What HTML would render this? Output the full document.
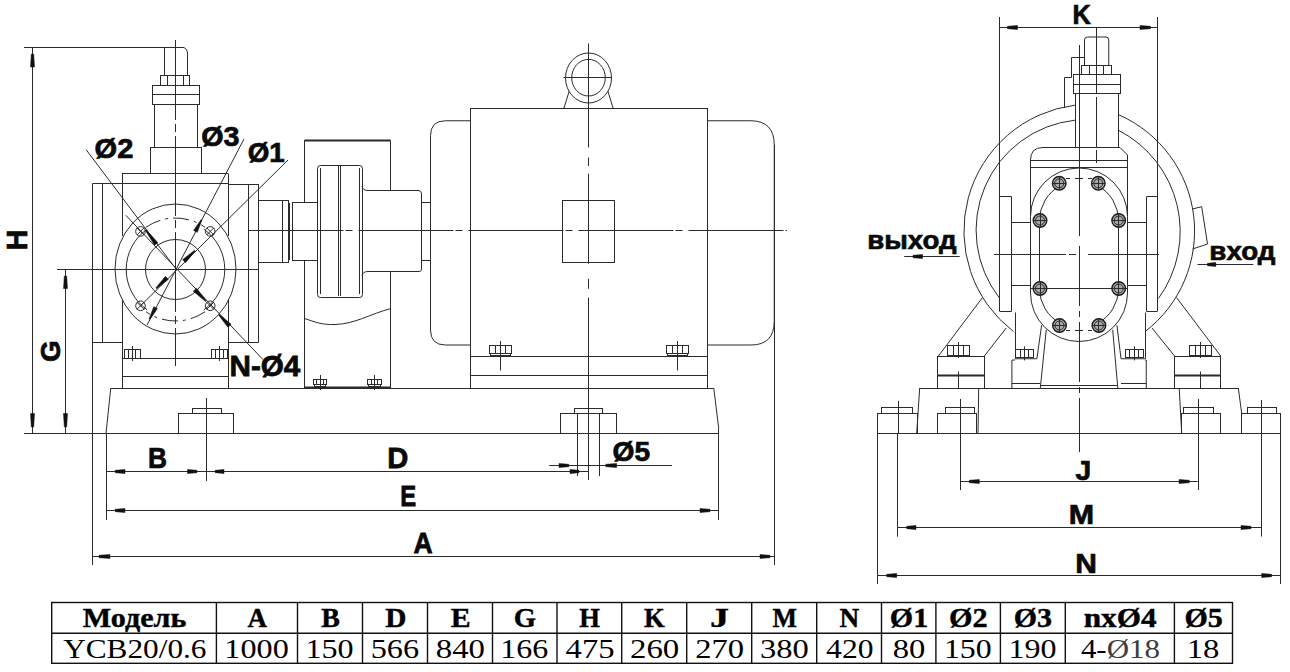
<!DOCTYPE html>
<html><head><meta charset="utf-8">
<style>
html,body{margin:0;padding:0;background:#fff;width:1290px;height:672px;overflow:hidden}
svg{display:block}
.dr line,.dr path,.dr rect,.dr circle,.dr ellipse{stroke:#2b2b2b;stroke-width:1;fill:none}
.dr .wf{fill:#fff}
.dr .bar{stroke:#111;stroke-linecap:butt}
.dr .wd{fill:#111;stroke:#111;stroke-width:0.5}
.dr .d{stroke-dasharray:16 5 3 5}
.dr .dd{stroke-dasharray:34 6 6 6}
.dr .sc{stroke-dasharray:95 2 7 6}
.dr .pc{stroke-dasharray:80 4 8 4}
.dr .rc{stroke-dasharray:60 5 6 5}
.dr .dd2{stroke-dasharray:30 4 4 4}
.dr .g{fill:#a8a8a8;stroke:#1a1a1a;stroke-width:1.4px}
text{font-family:"Liberation Sans",sans-serif;font-weight:bold;fill:#0a0a0a;stroke:#0a0a0a;stroke-width:2.6px}
.th{font-family:"Liberation Serif",serif;font-weight:bold;fill:#000;stroke:#000;stroke-width:1.5px}
.td{font-family:"Liberation Serif",serif;font-weight:normal;fill:#000;stroke:none}
.tbl{stroke:#111;stroke-width:1.4;fill:none}
</style></head><body>
<svg width="1290" height="672" viewBox="0 0 1290 672">
<g class="dr">
<line x1="24" y1="47.5" x2="184" y2="47.5"/>
<line x1="32.5" y1="47.5" x2="32.5" y2="433.5"/>
<path class="wd" d="M31.30,54.00 L30.50,67.00 L34.50,67.00 L33.70,54.00 Z"/>
<path class="wd" d="M33.70,427.00 L34.50,413.50 L30.50,413.50 L31.30,427.00 Z"/>
<line x1="57" y1="269.5" x2="258.5" y2="269.5"/>
<line x1="65.5" y1="269.5" x2="65.5" y2="433.5"/>
<path class="wd" d="M64.30,276.00 L63.50,288.50 L67.50,288.50 L66.70,276.00 Z"/>
<path class="wd" d="M66.70,427.00 L67.50,413.50 L63.50,413.50 L64.30,427.00 Z"/>
<line x1="24" y1="433.5" x2="719" y2="433.5"/>
<text font-size="100" transform="matrix(0 -0.28305 0.29130 0 26.800 250.281)">H</text>
<text font-size="100" transform="matrix(0 -0.27794 0.28310 0 60.017 362.012)">G</text>
<path d="M164.5,75 V47.5 H184 Q187.5,49 187.5,53 V75"/>
<rect x="160.5" y="75.5" width="29.0" height="10.0"/>
<line x1="167.5" y1="75" x2="167.5" y2="85"/>
<line x1="183.5" y1="75" x2="183.5" y2="85"/>
<rect x="152.5" y="85.5" width="47.0" height="19.0"/>
<line x1="152" y1="94.5" x2="199.5" y2="94.5"/>
<line x1="154.5" y1="104" x2="154.5" y2="147.5"/>
<line x1="197.5" y1="104" x2="197.5" y2="147.5"/>
<rect x="150.5" y="147.5" width="51.0" height="26.0"/>
<line x1="122" y1="173.5" x2="228" y2="173.5"/>
<line x1="122.5" y1="173.5" x2="122.5" y2="236"/>
<line x1="228.5" y1="173.5" x2="228.5" y2="236"/>
<line x1="122.5" y1="300" x2="122.5" y2="388"/>
<line x1="228.5" y1="300" x2="228.5" y2="388"/>
<line x1="92.5" y1="183.5" x2="228" y2="183.5"/>
<line x1="228" y1="184.5" x2="258.5" y2="184.5"/>
<line x1="92.5" y1="183.5" x2="92.5" y2="565"/>
<line x1="258.5" y1="184" x2="258.5" y2="342.5"/>
<line x1="92.5" y1="342.5" x2="122" y2="342.5"/>
<line x1="228" y1="342.5" x2="258.5" y2="342.5"/>
<line x1="102.5" y1="183.5" x2="102.5" y2="342.5"/>
<line x1="248.5" y1="184" x2="248.5" y2="342.5"/>
<line x1="122" y1="358.5" x2="228" y2="358.5"/>
<line x1="122" y1="376.5" x2="228" y2="376.5"/>
<rect x="124.5" y="349.5" width="16.0" height="9.0"/>
<line x1="128.5" y1="349" x2="128.5" y2="358"/>
<line x1="135.5" y1="349" x2="135.5" y2="358"/>
<line x1="132.5" y1="346" x2="132.5" y2="361"/>
<rect x="211.5" y="349.5" width="16.0" height="9.0"/>
<line x1="215.5" y1="349" x2="215.5" y2="358"/>
<line x1="223.5" y1="349" x2="223.5" y2="358"/>
<line x1="219.5" y1="346" x2="219.5" y2="361"/>
<ellipse cx="175.5" cy="269" rx="60.5" ry="65"/>
<path d="M203.78,229.12 A49.3,49.3 0 0 1 203.78,309.88"/>
<path d="M147.22,309.88 A49.3,49.3 0 0 1 147.22,229.12"/>
<path d="M145.96,227.31 A51.5,51.5 0 0 1 205.04,227.31" class="d"/>
<path d="M205.04,311.69 A51.5,51.5 0 0 1 145.96,311.69" class="d"/>
<circle cx="175.5" cy="269.5" r="30"/>
<circle cx="140.5" cy="231.4" r="4.8"/>
<line x1="136.9" y1="227.8" x2="144.1" y2="235.0"/>
<line x1="136.9" y1="235.0" x2="144.1" y2="227.8"/>
<circle cx="210.2" cy="231.4" r="4.8"/>
<line x1="206.6" y1="227.8" x2="213.79999999999998" y2="235.0"/>
<line x1="206.6" y1="235.0" x2="213.79999999999998" y2="227.8"/>
<circle cx="140.5" cy="305.8" r="4.8"/>
<line x1="136.9" y1="302.2" x2="144.1" y2="309.40000000000003"/>
<line x1="136.9" y1="309.40000000000003" x2="144.1" y2="302.2"/>
<circle cx="210.2" cy="305.8" r="4.8"/>
<line x1="206.6" y1="302.2" x2="213.79999999999998" y2="309.40000000000003"/>
<line x1="206.6" y1="309.40000000000003" x2="213.79999999999998" y2="302.2"/>
<line x1="175.5" y1="40" x2="175.5" y2="366" class="pc"/>
<line x1="86.2" y1="149.8" x2="176" y2="269"/>
<line x1="244" y1="139" x2="147" y2="325"/>
<line x1="288" y1="160" x2="140.5" y2="305.8"/>
<line x1="125.8" y1="215.3" x2="262.9" y2="359.5"/>
<path class="wd" d="M146.42,230.06 L157.92,242.68 L154.57,245.20 L145.62,230.66 Z"/>
<path class="wd" d="M201.90,220.11 L197.29,232.37 L193.57,230.42 L201.01,219.65 Z"/>
<path class="wd" d="M149.10,318.89 L153.71,306.63 L157.43,308.58 L149.99,319.35 Z"/>
<path class="wd" d="M195.20,251.03 L185.56,262.64 L182.64,259.63 L194.50,250.31 Z"/>
<path class="wd" d="M155.80,287.97 L165.44,276.36 L168.36,279.37 L156.50,288.69 Z"/>
<path class="wd" d="M205.61,301.58 L193.27,291.25 L196.52,288.14 L206.34,300.89 Z"/>
<path class="wd" d="M218.77,315.29 L227.90,327.32 L231.15,324.20 L219.50,314.60 Z"/>
<text font-size="100" transform="matrix(0.29048 0 0 0.27895 94.538 157.984)">Ø2</text>
<text font-size="100" transform="matrix(0.28651 0 0 0.27895 201.254 145.784)">Ø3</text>
<text font-size="100" transform="matrix(0.27795 0 0 0.28289 247.688 161.568)">Ø1</text>
<text font-size="100" transform="matrix(0.29654 0 0 0.29079 229.524 375.837)">N-Ø4</text>
<rect x="258.5" y="200.5" width="30.0" height="62.0"/>
<line x1="282.5" y1="200.5" x2="282.5" y2="262.5"/>
<rect x="292.5" y="202.5" width="25.0" height="58.0"/>
<line x1="289.5" y1="203" x2="289.5" y2="260"/>
<path d="M304.5,202.5 V140.5 H390.5 V190.5"/>
<line x1="304.5" y1="260.5" x2="304.5" y2="388"/>
<line x1="390.5" y1="272" x2="390.5" y2="388"/>
<line x1="304.5" y1="140.5" x2="390.5" y2="140.5" style="stroke-width:2px"/>
<path d="M304.5,318.5 C315,322 322,325 335,324.5 C355,324 370,314 391,308.5"/>
<rect x="317.5" y="165.5" width="45.0" height="132.0" rx="3"/>
<line x1="320.5" y1="168" x2="320.5" y2="294"/>
<line x1="338.5" y1="166" x2="338.5" y2="296"/>
<line x1="340.5" y1="166" x2="340.5" y2="296"/>
<line x1="359.5" y1="168" x2="359.5" y2="294"/>
<path d="M362,186 Q362.5,190.5 368,190.5 H419 Q421.5,191 421.5,194 V269 Q421.5,271.5 419,271.5 H368 Q362.5,271.5 362,276"/>
<rect x="421.5" y="202.5" width="9.0" height="58.0"/>
<rect x="313.5" y="379.5" width="13.0" height="5.0"/>
<line x1="316.5" y1="379.5" x2="316.5" y2="384.0"/>
<line x1="323.5" y1="379.5" x2="323.5" y2="384.0"/>
<rect x="314.5" y="384.5" width="11.0" height="2.0"/>
<line x1="320.5" y1="375.0" x2="320.5" y2="390.0"/>
<rect x="367.5" y="379.5" width="14.0" height="5.0"/>
<line x1="371.5" y1="379.5" x2="371.5" y2="384.0"/>
<line x1="377.5" y1="379.5" x2="377.5" y2="384.0"/>
<rect x="368.5" y="384.5" width="12.0" height="2.0"/>
<line x1="374.5" y1="375.0" x2="374.5" y2="390.0"/>
<line x1="304.5" y1="387.5" x2="390.5" y2="387.5" style="stroke-width:2px"/>
<line x1="248.5" y1="230.5" x2="787" y2="230.5" class="sc"/>
<path d="M470.5,120.75 H445.5 Q430.5,120.75 430.5,135.75 V330 Q430.5,345 445.5,345 H470.5"/>
<rect x="470.5" y="108.5" width="237.0" height="280.0"/>
<path d="M707.5,120.75 H751 Q774.25,121 774.25,145 V321 Q774.25,345 751,345 H707.5"/>
<line x1="774.5" y1="145" x2="774.5" y2="565"/>
<ellipse cx="588.5" cy="78" rx="23" ry="25"/>
<ellipse cx="588.5" cy="77.7" rx="16.8" ry="18.3"/>
<line x1="563.5" y1="77.5" x2="612" y2="77.5"/>
<line x1="569.2" y1="91.2" x2="563.8" y2="108.5"/>
<line x1="607.9" y1="91.2" x2="613.2" y2="108.5"/>
<path d="M588.5,43.5 V147.5 M588.5,157.5 V166 M588.5,173.75 V263.75 M588.5,278.75 V288.75 M588.5,297.5 V480"/>
<rect x="562.5" y="200.5" width="52.0" height="62.0"/>
<line x1="470.5" y1="356.5" x2="707.5" y2="356.5"/>
<line x1="470.5" y1="375.5" x2="707.5" y2="375.5"/>
<rect x="489.5" y="345.5" width="22.0" height="8.0"/>
<line x1="495.5" y1="345" x2="495.5" y2="353"/>
<line x1="505.5" y1="345" x2="505.5" y2="353"/>
<rect x="490.5" y="353.5" width="20.0" height="2.0"/>
<line x1="500.5" y1="341" x2="500.5" y2="370.5"/>
<rect x="666.5" y="345.5" width="22.0" height="8.0"/>
<line x1="672.5" y1="345" x2="672.5" y2="353"/>
<line x1="682.5" y1="345" x2="682.5" y2="353"/>
<rect x="667.5" y="353.5" width="20.0" height="2.0"/>
<line x1="677.5" y1="341" x2="677.5" y2="370.5"/>
<line x1="110.75" y1="388.5" x2="713.75" y2="388.5"/>
<line x1="110.75" y1="388" x2="106" y2="433.5"/>
<line x1="713.75" y1="388" x2="718.75" y2="428.75"/>
<line x1="718.5" y1="428.75" x2="718.5" y2="520"/>
<rect x="178.5" y="413.5" width="55.0" height="20.0"/>
<rect x="192.5" y="408.5" width="29.0" height="5.0"/>
<rect x="560.5" y="413.5" width="56.0" height="20.0"/>
<rect x="574.5" y="408.5" width="28.0" height="5.0"/>
<line x1="206.5" y1="398" x2="206.5" y2="481"/>
<line x1="577.5" y1="413.75" x2="577.5" y2="476"/>
<line x1="599.5" y1="413.75" x2="599.5" y2="476"/>
<line x1="106.5" y1="433.5" x2="106.5" y2="520"/>
<line x1="106" y1="471.5" x2="588.5" y2="471.5"/>
<path class="wd" d="M115.20,472.70 L125.00,473.50 L125.00,469.50 L115.20,470.30 Z"/>
<path class="wd" d="M197.00,470.30 L187.50,469.50 L187.50,473.50 L197.00,472.70 Z"/>
<path class="wd" d="M215.20,472.70 L224.00,473.50 L224.00,469.50 L215.20,470.30 Z"/>
<path class="wd" d="M579.00,470.30 L570.00,469.50 L570.00,473.50 L579.00,472.70 Z"/>
<line x1="549.2" y1="465.5" x2="672" y2="465.5"/>
<path class="wd" d="M568.80,464.30 L559.00,463.50 L559.00,467.50 L568.80,466.70 Z"/>
<path class="wd" d="M605.80,466.70 L616.60,467.50 L616.60,463.50 L605.80,464.30 Z"/>
<text font-size="100" transform="matrix(0.26230 0 0 0.28696 147.964 467.800)">B</text>
<text font-size="100" transform="matrix(0.29180 0 0 0.28986 387.257 468.000)">D</text>
<text font-size="100" transform="matrix(0.23929 0 0 0.28986 400.125 506.000)">E</text>
<text font-size="100" transform="matrix(0.26515 0 0 0.30290 413.505 553.400)">A</text>
<text font-size="100" transform="matrix(0.28150 0 0 0.27763 612.624 461.389)">Ø5</text>
<line x1="106" y1="510.5" x2="718.75" y2="510.5"/>
<path class="wd" d="M115.20,511.70 L125.00,512.50 L125.00,508.50 L115.20,509.30 Z"/>
<path class="wd" d="M710.00,509.30 L700.00,508.50 L700.00,512.50 L710.00,511.70 Z"/>
<line x1="92.5" y1="556.5" x2="774.25" y2="556.5"/>
<path class="wd" d="M99.00,557.70 L110.00,558.50 L110.00,554.50 L99.00,555.30 Z"/>
<path class="wd" d="M770.00,555.30 L760.00,554.50 L760.00,558.50 L770.00,557.70 Z"/>
<line x1="999.5" y1="17" x2="999.5" y2="311.25"/>
<line x1="1157.5" y1="17" x2="1157.5" y2="311.25"/>
<line x1="999.5" y1="27.5" x2="1157.75" y2="27.5"/>
<path class="wd" d="M1007.50,28.70 L1017.50,29.50 L1017.50,25.50 L1007.50,26.30 Z"/>
<path class="wd" d="M1150.50,26.30 L1140.00,25.50 L1140.00,29.50 L1150.50,28.70 Z"/>
<text font-size="100" transform="matrix(0.25313 0 0 0.28116 1072.428 23.700)">K</text>
<path d="M1074.90,105.19 A126.8,126.8 0 0 0 1013.43,331.53"/>
<path d="M1118.84,114.80 A127,127 0 0 1 1144.99,331.69"/>
<path d="M1074.96,120.21 A110.5,110.5 0 0 0 999.48,298.08"/>
<path d="M1118.59,130.31 A113.9,113.9 0 0 1 1158.47,298.42"/>
<path d="M1192.5,209 L1201.7,206.7 L1207.5,244 L1192.5,249"/>
<path d="M1096.5,27 V93 M1096.5,97 V147 M1096.5,150 V163"/>
<path d="M1084.5,65.5 V40 Q1084.5,37 1087.5,37 H1106 Q1108.75,37 1108.75,40 V65.5"/>
<rect x="1081.5" y="65.5" width="30.0" height="9.0"/>
<line x1="1089.5" y1="65.5" x2="1089.5" y2="74.25"/>
<line x1="1103.5" y1="65.5" x2="1103.5" y2="74.25"/>
<rect x="1073.5" y="74.5" width="47.0" height="19.0"/>
<line x1="1073" y1="84.5" x2="1120.5" y2="84.5"/>
<line x1="1075.5" y1="93" x2="1075.5" y2="147.5"/>
<line x1="1118.5" y1="93" x2="1118.5" y2="147.5"/>
<path d="M1079.5,45 V147 M1084.5,57.5 H1071.5 V77.5 H1064.5 V108"/>
<path d="M1030.5,216.5 V160 Q1030.5,147.5 1043,147.5 H1120 L1127.5,155 V216.5"/>
<line x1="1030.8" y1="160.5" x2="1128" y2="160.5"/>
<line x1="1030.8" y1="167.5" x2="1128" y2="167.5"/>
<path d="M1030.5,216.5 A48.5,48.5 0 0 1 1127.5,216.5 V293 A48.5,48.5 0 0 1 1030.5,293 Z"/>
<path d="M1039.50,220.50 A39.5,39.5 0 0 1 1060.58,185.56"/>
<path d="M1097.42,185.56 A39.5,39.5 0 0 1 1118.50,220.50"/>
<path d="M1118.50,288.50 A39.5,39.5 0 0 1 1097.42,323.44"/>
<path d="M1060.58,323.44 A39.5,39.5 0 0 1 1039.50,288.50"/>
<line x1="1039.5" y1="220.5" x2="1039.5" y2="288.5"/>
<line x1="1118.5" y1="220.5" x2="1118.5" y2="288.5"/>
<line x1="1066" y1="178.5" x2="1070" y2="178.5"/>
<line x1="1075" y1="178.5" x2="1083" y2="178.5"/>
<line x1="1088" y1="178.5" x2="1092" y2="178.5"/>
<line x1="1066" y1="330.5" x2="1070" y2="330.5"/>
<line x1="1075" y1="330.5" x2="1083" y2="330.5"/>
<line x1="1088" y1="330.5" x2="1092" y2="330.5"/>
<path d="M994,254.5 H1066 M1069,254.5 H1076 M1088,254.5 H1159"/>
<line x1="1079.5" y1="136" x2="1079.5" y2="236"/>
<line x1="1079.5" y1="246" x2="1079.5" y2="452" class="rc"/>
<line x1="1030" y1="288.5" x2="1128" y2="288.5"/>
<circle cx="1059.2" cy="183.3" r="6.8" class="g"/>
<circle cx="1059.2" cy="183.3" r="4.5"/>
<line x1="1052.4" y1="183.5" x2="1066.0" y2="183.5"/>
<line x1="1059.5" y1="176.5" x2="1059.5" y2="190.10000000000002"/>
<circle cx="1098.3" cy="183.3" r="6.8" class="g"/>
<circle cx="1098.3" cy="183.3" r="4.5"/>
<line x1="1091.5" y1="183.5" x2="1105.1" y2="183.5"/>
<line x1="1098.5" y1="176.5" x2="1098.5" y2="190.10000000000002"/>
<circle cx="1040" cy="220.5" r="6.8" class="g"/>
<circle cx="1040" cy="220.5" r="4.5"/>
<line x1="1033.2" y1="220.5" x2="1046.8" y2="220.5"/>
<line x1="1040.5" y1="213.7" x2="1040.5" y2="227.3"/>
<circle cx="1118.7" cy="220.5" r="6.8" class="g"/>
<circle cx="1118.7" cy="220.5" r="4.5"/>
<line x1="1111.9" y1="220.5" x2="1125.5" y2="220.5"/>
<line x1="1118.5" y1="213.7" x2="1118.5" y2="227.3"/>
<circle cx="1040" cy="288.5" r="6.8" class="g"/>
<circle cx="1040" cy="288.5" r="4.5"/>
<line x1="1033.2" y1="288.5" x2="1046.8" y2="288.5"/>
<line x1="1040.5" y1="281.7" x2="1040.5" y2="295.3"/>
<circle cx="1118.7" cy="288.5" r="6.8" class="g"/>
<circle cx="1118.7" cy="288.5" r="4.5"/>
<line x1="1111.9" y1="288.5" x2="1125.5" y2="288.5"/>
<line x1="1118.5" y1="281.7" x2="1118.5" y2="295.3"/>
<circle cx="1059.5" cy="325.5" r="6.8" class="g"/>
<circle cx="1059.5" cy="325.5" r="4.5"/>
<line x1="1052.7" y1="325.5" x2="1066.3" y2="325.5"/>
<line x1="1059.5" y1="318.7" x2="1059.5" y2="332.3"/>
<circle cx="1098.9" cy="325.5" r="6.8" class="g"/>
<circle cx="1098.9" cy="325.5" r="4.5"/>
<line x1="1092.1000000000001" y1="325.5" x2="1105.7" y2="325.5"/>
<line x1="1098.5" y1="318.7" x2="1098.5" y2="332.3"/>
<path d="M999.5,196.5 H1011.5 V311.5 H999.5"/>
<path d="M1157.5,196.5 H1146.5 V311.5 H1157.5"/>
<line x1="1012" y1="222.5" x2="1030.8" y2="222.5"/>
<line x1="1128" y1="222.5" x2="1146.5" y2="222.5"/>
<line x1="1012" y1="285.5" x2="1030.8" y2="285.5"/>
<line x1="1128" y1="285.5" x2="1146.5" y2="285.5"/>
<line x1="1015.5" y1="312.5" x2="1015.5" y2="358.75"/>
<line x1="1145.5" y1="312.5" x2="1145.5" y2="358.75"/>
<line x1="982.5" y1="297.5" x2="938.3" y2="356.2"/>
<line x1="1006.2" y1="328" x2="984.2" y2="356.2"/>
<line x1="1176.5" y1="297.5" x2="1220.8" y2="356.2"/>
<line x1="1152" y1="328" x2="1174.7" y2="356.2"/>
<rect x="937.5" y="356.5" width="47.0" height="32.0"/>
<line x1="937.5" y1="375.5" x2="984.2" y2="375.5" style="stroke-width:2px"/>
<rect x="1174.5" y="356.5" width="46.0" height="32.0"/>
<line x1="1174.7" y1="375.5" x2="1220.8" y2="375.5" style="stroke-width:2px"/>
<rect x="947.5" y="345.5" width="22.0" height="10.0"/>
<line x1="953.5" y1="345" x2="953.5" y2="355"/>
<line x1="963.5" y1="345" x2="963.5" y2="355"/>
<line x1="958.5" y1="342" x2="958.5" y2="358"/>
<rect x="1189.5" y="345.5" width="22.0" height="10.0"/>
<line x1="1195.5" y1="345" x2="1195.5" y2="355"/>
<line x1="1205.5" y1="345" x2="1205.5" y2="355"/>
<line x1="1200.5" y1="342" x2="1200.5" y2="358"/>
<line x1="958.5" y1="371.5" x2="958.5" y2="388"/>
<line x1="1200.5" y1="371.5" x2="1200.5" y2="388"/>
<path d="M1011.9,388 V360 H1015 M1015,358.75 H1036.9 L1041.6,325.2"/>
<line x1="1040.3" y1="388" x2="1046.25" y2="329.8"/>
<line x1="1011.9" y1="383.5" x2="1040" y2="383.5"/>
<path d="M1146.25,388 V360 H1145 M1145,358.75 H1121 L1116.9,325.2"/>
<line x1="1117.8" y1="388" x2="1112.7" y2="329.8"/>
<line x1="1121" y1="383.5" x2="1146.25" y2="383.5"/>
<line x1="1040.3" y1="385.5" x2="1116.9" y2="385.5" style="stroke-width:1px" style="stroke:#555"/>
<rect x="1015.5" y="349.5" width="18.0" height="8.0"/>
<line x1="1020.5" y1="349.4" x2="1020.5" y2="357.4"/>
<line x1="1028.5" y1="349.4" x2="1028.5" y2="357.4"/>
<line x1="1024.5" y1="346.4" x2="1024.5" y2="360.4"/>
<rect x="1125.5" y="349.5" width="18.0" height="8.0"/>
<line x1="1129.5" y1="349.4" x2="1129.5" y2="357.4"/>
<line x1="1138.5" y1="349.4" x2="1138.5" y2="357.4"/>
<line x1="1134.5" y1="346.4" x2="1134.5" y2="360.4"/>
<line x1="919.7" y1="388.5" x2="1238.3" y2="388.5"/>
<line x1="919.7" y1="388" x2="916.7" y2="433.3"/>
<line x1="1238.3" y1="388" x2="1241.7" y2="413.3"/>
<line x1="1179.2" y1="388" x2="1181.7" y2="433.3"/>
<line x1="978.7" y1="388" x2="978" y2="433.3"/>
<line x1="877.3" y1="433.5" x2="1280.7" y2="433.5"/>
<rect x="877.5" y="413.5" width="40.0" height="20.0"/>
<rect x="881.5" y="407.5" width="31.0" height="6.0"/>
<rect x="937.5" y="413.5" width="39.0" height="20.0"/>
<rect x="945.5" y="407.5" width="29.0" height="6.0"/>
<rect x="1181.5" y="413.5" width="39.0" height="20.0"/>
<rect x="1183.5" y="407.5" width="30.0" height="6.0"/>
<rect x="1241.5" y="413.5" width="39.0" height="20.0"/>
<rect x="1247.5" y="407.5" width="29.0" height="6.0"/>
<line x1="898.5" y1="400.8" x2="898.5" y2="433.5"/>
<line x1="960.5" y1="399" x2="960.5" y2="490"/>
<line x1="1198.5" y1="399" x2="1198.5" y2="490"/>
<line x1="1261.5" y1="400" x2="1261.5" y2="536.5"/>
<line x1="877.5" y1="413.3" x2="877.5" y2="584"/>
<line x1="1280.5" y1="433.5" x2="1280.5" y2="584"/>
<line x1="897.5" y1="433.5" x2="897.5" y2="536.7"/>
<line x1="960.3" y1="481.5" x2="1197.7" y2="481.5"/>
<path class="wd" d="M969.30,482.70 L979.30,483.50 L979.30,479.50 L969.30,480.30 Z"/>
<path class="wd" d="M1189.30,480.30 L1179.00,479.50 L1179.00,483.50 L1189.30,482.70 Z"/>
<line x1="897.7" y1="527.5" x2="1261.3" y2="527.5"/>
<path class="wd" d="M906.70,528.70 L916.00,529.50 L916.00,525.50 L906.70,526.30 Z"/>
<path class="wd" d="M1251.00,526.30 L1241.00,525.50 L1241.00,529.50 L1251.00,528.70 Z"/>
<line x1="877.3" y1="575.5" x2="1280.7" y2="575.5"/>
<path class="wd" d="M886.70,576.70 L896.70,577.50 L896.70,573.50 L886.70,574.30 Z"/>
<path class="wd" d="M1271.70,574.30 L1261.70,573.50 L1261.70,577.50 L1271.70,576.70 Z"/>
<text font-size="100" transform="matrix(0.28298 0 0 0.28286 1075.434 480.217)">J</text>
<text font-size="100" transform="matrix(0.30429 0 0 0.27536 1068.870 524.000)">M</text>
<text font-size="100" transform="matrix(0.30000 0 0 0.28116 1075.200 572.700)">N</text>
<text font-size="100" transform="matrix(0.27651 0 0 0.25270 867.264 248.646)">выход</text>
<line x1="904.2" y1="256.5" x2="959.7" y2="256.5"/>
<path class="wd" d="M913.00,257.70 L922.50,258.50 L922.50,254.50 L913.00,255.30 Z"/>
<text font-size="100" transform="matrix(0.27817 0 0 0.25000 1209.353 259.700)">вход</text>
<line x1="1197.5" y1="264.5" x2="1253.3" y2="264.5"/>
<path class="wd" d="M1207.50,265.70 L1215.80,266.50 L1215.80,262.50 L1207.50,263.30 Z"/>
</g>
<g>
<text class="th" font-size="100" transform="matrix(0.30118 0 0 0.27692 82.798 627.200)">Модель</text>
<text class="td" font-size="100" transform="matrix(0.31278 0 0 0.27612 63.137 657.924)">YCB20/0.6</text>
<text class="th" font-size="100" transform="matrix(0.27042 0 0 0.27692 247.480 627.200)">A</text>
<text class="td" font-size="100" transform="matrix(0.32193 0 0 0.27612 224.353 657.924)">1000</text>
<text class="th" font-size="100" transform="matrix(0.27903 0 0 0.27692 321.192 627.200)">B</text>
<text class="td" font-size="100" transform="matrix(0.32117 0 0 0.27612 305.509 657.924)">150</text>
<text class="th" font-size="100" transform="matrix(0.29385 0 0 0.27692 385.262 627.200)">D</text>
<text class="td" font-size="100" transform="matrix(0.32270 0 0 0.27612 370.714 657.924)">566</text>
<text class="th" font-size="100" transform="matrix(0.29833 0 0 0.27692 450.853 627.200)">E</text>
<text class="td" font-size="100" transform="matrix(0.32817 0 0 0.27612 435.787 657.924)">840</text>
<text class="th" font-size="100" transform="matrix(0.28571 0 0 0.27692 513.721 627.200)">G</text>
<text class="td" font-size="100" transform="matrix(0.31957 0 0 0.27612 500.224 657.924)">166</text>
<text class="th" font-size="100" transform="matrix(0.26622 0 0 0.27692 579.368 627.200)">H</text>
<text class="td" font-size="100" transform="matrix(0.32639 0 0 0.27612 565.597 657.924)">475</text>
<text class="th" font-size="100" transform="matrix(0.26667 0 0 0.27692 644.067 627.200)">K</text>
<text class="td" font-size="100" transform="matrix(0.32887 0 0 0.27612 629.935 657.924)">260</text>
<text class="th" font-size="100" transform="matrix(0.37907 0 0 0.27692 709.934 627.200)">J</text>
<text class="td" font-size="100" transform="matrix(0.32606 0 0 0.27612 695.146 657.924)">270</text>
<text class="th" font-size="100" transform="matrix(0.25889 0 0 0.27692 772.432 627.200)">M</text>
<text class="td" font-size="100" transform="matrix(0.32553 0 0 0.27612 760.022 657.924)">380</text>
<text class="th" font-size="100" transform="matrix(0.27246 0 0 0.27692 839.555 627.200)">N</text>
<text class="td" font-size="100" transform="matrix(0.31597 0 0 0.27612 826.118 657.924)">420</text>
<text class="th" font-size="100" transform="matrix(0.30085 0 0 0.27692 889.846 627.200)">Ø1</text>
<text class="td" font-size="100" transform="matrix(0.32609 0 0 0.27612 892.796 657.924)">80</text>
<text class="th" font-size="100" transform="matrix(0.30252 0 0 0.27692 949.037 627.200)">Ø2</text>
<text class="td" font-size="100" transform="matrix(0.31825 0 0 0.27612 943.886 657.924)">150</text>
<text class="th" font-size="100" transform="matrix(0.30000 0 0 0.27692 1013.750 627.200)">Ø3</text>
<text class="td" font-size="100" transform="matrix(0.32044 0 0 0.27612 1008.416 657.924)">190</text>
<text class="th" font-size="100" transform="matrix(0.31228 0 0 0.27692 1083.713 627.200)">nxØ4</text>
<text class="td" font-size="100" transform="matrix(0.31000 0 0 0.27612 1080.880 657.924)">4-<tspan fill="#3c3c3c">Ø18</tspan></text>
<text class="th" font-size="100" transform="matrix(0.30084 0 0 0.27692 1184.446 627.200)">Ø5</text>
<text class="td" font-size="100" transform="matrix(0.32644 0 0 0.27612 1186.712 657.924)">18</text>
<rect x="51.7" y="602.5" width="1180.8" height="60.8" class="tbl"/>
<line x1="51.7" y1="633.3" x2="1232.5" y2="633.3" class="tbl"/>
<line x1="216.4" y1="602.5" x2="216.4" y2="663.3" class="tbl"/>
<line x1="297.5" y1="602.5" x2="297.5" y2="663.3" class="tbl"/>
<line x1="362.5" y1="602.5" x2="362.5" y2="663.3" class="tbl"/>
<line x1="427.5" y1="602.5" x2="427.5" y2="663.3" class="tbl"/>
<line x1="492.5" y1="602.5" x2="492.5" y2="663.3" class="tbl"/>
<line x1="557" y1="602.5" x2="557" y2="663.3" class="tbl"/>
<line x1="621.7" y1="602.5" x2="621.7" y2="663.3" class="tbl"/>
<line x1="686.7" y1="602.5" x2="686.7" y2="663.3" class="tbl"/>
<line x1="751.7" y1="602.5" x2="751.7" y2="663.3" class="tbl"/>
<line x1="816.7" y1="602.5" x2="816.7" y2="663.3" class="tbl"/>
<line x1="881.5" y1="602.5" x2="881.5" y2="663.3" class="tbl"/>
<line x1="935.9" y1="602.5" x2="935.9" y2="663.3" class="tbl"/>
<line x1="1000.4" y1="602.5" x2="1000.4" y2="663.3" class="tbl"/>
<line x1="1065.3" y1="602.5" x2="1065.3" y2="663.3" class="tbl"/>
<line x1="1174.4" y1="602.5" x2="1174.4" y2="663.3" class="tbl"/>
</g>
</svg>
</body></html>
